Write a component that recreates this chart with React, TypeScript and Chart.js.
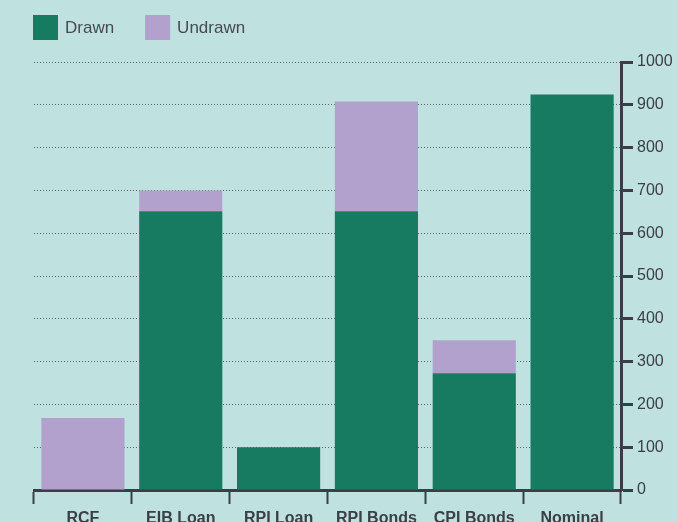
import React, { useEffect, useRef } from "react";
import { Chart, registerables } from "chart.js";

Chart.register(...registerables);

const categories = ["RCF", "EIB Loan", "RPI Loan", "RPI Bonds", "CPI Bonds", "Nominal"];
const drawnValues = [0, 651, 100, 651, 273, 924];
const undrawnValues = [168, 49, 0, 257, 77, 0];
const seriesNames = ["Drawn", "Undrawn"];
const seriesColors = ["#177B62", "#B3A1CD"];

const BG = "#BFE1E0";
const INK = "#3B3E46";
const FONT = "'Liberation Sans', Arial, sans-serif";

const legendPlugin = {
  id: "customLegend",
  afterDraw(chart: any) {
    const ctx = chart.ctx;
    ctx.save();
    ctx.font = "17px " + FONT;
    ctx.textBaseline = "middle";
    ctx.textAlign = "left";
    let x = 33;
    const y = 15;
    const box = 25;
    chart.data.datasets.forEach((ds: any) => {
      ctx.fillStyle = ds.backgroundColor;
      ctx.fillRect(x, y, box, box);
      ctx.fillStyle = "#474A52";
      ctx.fillText(ds.label, x + box + 7, y + box / 2 + 1);
      const w = ctx.measureText(ds.label).width;
      x += box + 7 + w + 31;
    });
    ctx.restore();
  },
};

const bgPlugin = {
  id: "bgFill",
  beforeDraw(chart: any) {
    const ctx = chart.ctx;
    ctx.save();
    ctx.fillStyle = BG;
    ctx.fillRect(0, 0, chart.width, chart.height);
    ctx.restore();
  },
};

export default function App() {
  const ref = useRef<HTMLCanvasElement | null>(null);
  useEffect(() => {
    if (!ref.current) return;
    const chart = new Chart(ref.current, {
      type: "bar",
      data: {
        labels: categories,
        datasets: [
          {
            label: seriesNames[0],
            data: drawnValues,
            backgroundColor: seriesColors[0],
            borderWidth: 0,
          },
          {
            label: seriesNames[1],
            data: undrawnValues,
            backgroundColor: seriesColors[1],
            borderWidth: 0,
          },
        ],
      },
      options: {
        animation: false,
        responsive: false,
        maintainAspectRatio: false,
        layout: { padding: { left: 34, top: 62, right: 0, bottom: 0 } },
        plugins: {
          legend: { display: false },
          tooltip: { enabled: false },
        },
        datasets: {
          bar: { categoryPercentage: 1, barPercentage: 0.85 },
        },
        scales: {
          x: {
            stacked: true,
            grid: {
              offset: true,
              drawOnChartArea: false,
              drawTicks: true,
              tickLength: 14,
              tickWidth: 2,
              tickColor: INK,
            },
            border: { display: true, color: INK, width: 3 },
            ticks: {
              color: INK,
              padding: 5,
              maxRotation: 0,
              autoSkip: false,
              font: { family: FONT, size: 16, weight: "bold" },
            },
            afterFit(scale: any) {
              scale.height = 32;
            },
          },
          y: {
            stacked: true,
            position: "right",
            min: 0,
            max: 1000,
            ticks: {
              stepSize: 100,
              color: INK,
              padding: 4,
              font: { family: FONT, size: 16 },
              callback: (v: any) => String(v),
            },
            grid: {
              color: "rgba(55,58,66,0.75)",
              lineWidth: 1,
              drawTicks: true,
              tickLength: 12,
              tickWidth: 3,
              tickColor: INK,
              tickBorderDash: [],
            },
            border: { display: true, color: INK, width: 3, dash: [1, 2] },
            afterFit(scale: any) {
              scale.width = 57;
            },
          },
        },
      } as any,
      plugins: [bgPlugin, legendPlugin],
    });
    return () => chart.destroy();
  }, []);
  return (
    <div style={{ position: "fixed", left: 0, top: 0, width: 678, height: 522, background: BG }}>
      <canvas ref={ref} width={678} height={522} style={{ display: "block", width: 678, height: 522 }} />
    </div>
  );
}
